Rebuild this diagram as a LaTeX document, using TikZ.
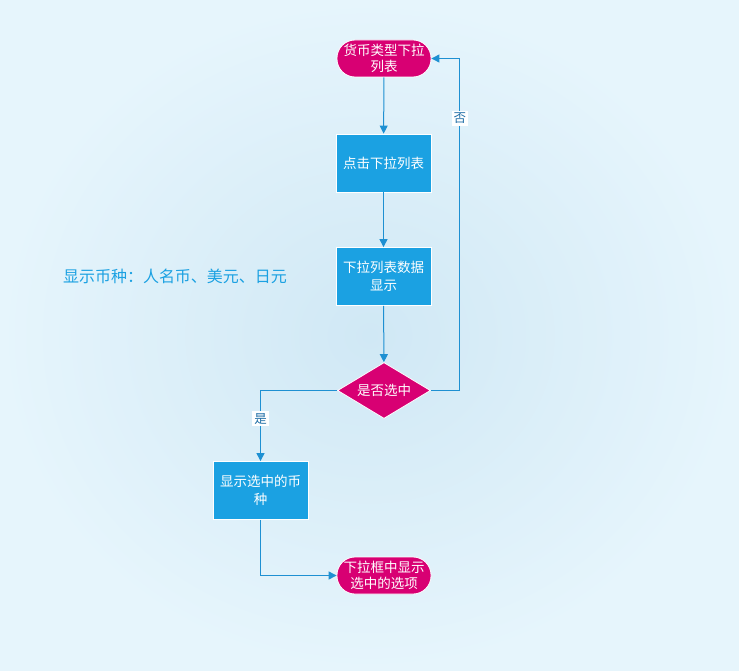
\documentclass[tikz,border=0pt]{standalone}
\usepackage{fontspec}
\setmainfont{Noto Sans CJK SC}
\usepackage{tikz}
\usetikzlibrary{arrows.meta,shapes.geometric,calc}
\definecolor{bgin}{HTML}{D0E8F5}
\definecolor{bgout}{HTML}{E6F5FC}
\definecolor{boxblue}{HTML}{1BA1E2}
\definecolor{termred}{HTML}{D80073}
\definecolor{linkblue}{HTML}{1E90D2}
\definecolor{labelblue}{HTML}{1F6EA6}

\begin{document}
\begin{tikzpicture}[x=1pt,y=-1pt,
  every node/.style={font=\fontsize{13.5}{17}\selectfont, text=white, align=center},
  process/.style={draw=white, line width=0.8pt, fill=boxblue, minimum width=95pt, minimum height=58pt, inner sep=2pt},
  terminal/.style={draw=white, line width=0.8pt, fill=termred, rounded corners=18pt, minimum width=94pt, minimum height=37pt, inner sep=1pt},
  decision/.style={draw=white, line width=0.8pt, fill=termred, diamond, aspect=1.67, minimum width=93pt, minimum height=56pt, inner sep=0pt},
  link/.style={draw=linkblue, line width=1pt, -{Triangle[length=8pt,width=8pt]}},
  tag/.style={fill=white, text=labelblue, font=\fontsize{12.5}{14}\selectfont, inner sep=2pt}]
\shade[inner color=bgin, outer color=bgout] (0,0) rectangle (739,671);
\useasboundingbox (0,0) rectangle (739,671);

% nodes
\node[terminal] (start) at (384,58.5) {货币类型下拉\\[-1pt]列表};
\node[process] (click) at (383.5,163) {点击下拉列表};
\node[process] (show) at (383.5,276.5) {下拉列表数据\\[1pt]显示};
\node[decision] (sel) at (384,390.5) {是否选中};
\node[process] (pick) at (260.5,490.5) {显示选中的币\\[1pt]种};
\node[terminal] (stop) at (384,575.5) {下拉框中显示\\[-1pt]选中的选项};
\node[text=boxblue, font=\fontsize{16}{18}\selectfont] (note) at (175,276.5) {显示币种：人名币、美元、日元};

% connectors
\draw[link] (start) -- (click);
\draw[link] (click) -- (show);
\draw[link] (show) -- (sel);
\draw[link] (sel.east) -- ++(29,0) |- node[tag, pos=0.41] {否} (start.east);
\draw[link] (sel.west) -| node[tag, pos=0.7] {是} (pick.north);
\draw[link] (pick.south) |- (stop.west);
\end{tikzpicture}
\end{document}
